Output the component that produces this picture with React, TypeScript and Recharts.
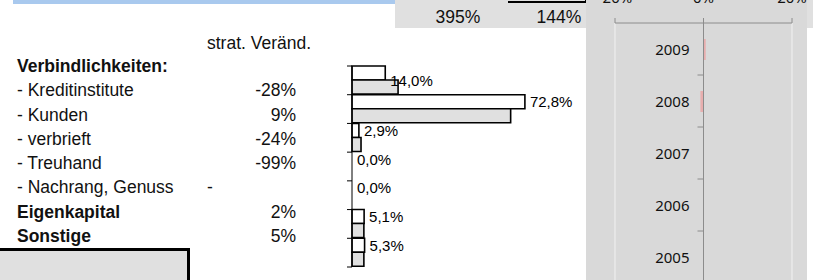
import { Bar, BarChart, CartesianGrid, Cell, LabelList, ReferenceLine, XAxis, YAxis } from "recharts"

const posten = ["- Kreditinstitute", "- Kunden", "- verbrieft", "- Treuhand", "- Nachrang, Genuss", "Eigenkapital", "Sonstige"]
const postenFett = [false, false, false, false, false, true, true]
const stratVeraend = ["-28%", "9%", "-24%", "-99%", null, "2%", "5%"]
const anteilNeu = [14.0, 72.8, 2.9, 0.0, 0.0, 5.1, 5.3]
const anteilAlt = [19.4, 66.8, 3.8, 0.0, 0.0, 5.0, 5.0]
const kopfWerte = ["395%", "144%"]

const jahre = ["2009", "2008", "2007", "2006", "2005"]
const jahresWerte = [0.5, -0.7, 0, 0, 0]
const jahresTicks = [-20, 0, 20]

const strukturData = posten.map((name, i) => ({ name, neu: anteilNeu[i], alt: anteilAlt[i] }))
const jahresData = jahre.map((jahr, i) => ({ jahr, wert: jahresWerte[i] }))

const ARIAL = "'Liberation Sans', Arial, sans-serif"
const CALIBRI = "'Noto Sans', 'Open Sans', sans-serif"

const RW = 221
const RH = 320
const RYW = 1
const RM = { top: 13, right: 15, bottom: 17, left: 28 }
const ZERO_OFF = (RW - RM.left - RYW - RM.right) / 2

const fmtProzent = (v: number) => v.toFixed(1).replace(".", ",") + "%"

// ticks between the categories, like excel draws them
function StrukturTick(props: any) {
  const { x, y, payload, index } = props
  const off = payload?.offset ?? 14.35
  return (
    <g>
      <line x1={x - 5} x2={x} y1={y - off} y2={y - off} stroke="#000" strokeWidth={1} />
      {index === posten.length - 1 && <line x1={x - 5} x2={x} y1={y + off} y2={y + off} stroke="#000" strokeWidth={1} />}
    </g>
  )
}

function JahrTick(props: any) {
  const { x, y, payload, index } = props
  const off = payload?.offset ?? 26
  const zx = x + ZERO_OFF
  return (
    <g>
      {index > 0 && <line x1={zx - 6} x2={zx} y1={y - off} y2={y - off} stroke="#8C8C8C" strokeWidth={1} />}
      <text x={zx - 14} y={y} textAnchor="end" dominantBaseline="central" fontSize={15} fontFamily={CALIBRI} fill="#111">
        {payload.value}
      </text>
    </g>
  )
}

function NeuLabel(props: any) {
  const { x, y, width, height, value, index } = props
  const dy = index === 0 ? 7 : 0
  return (
    <text x={x + width + 5} y={y + height / 2 + dy} dominantBaseline="central" fontSize={15} fontFamily={ARIAL} fill="#000">
      {fmtProzent(value)}
    </text>
  )
}

export default function App() {
  return (
    <div style={{ position: "absolute", left: 0, top: 0, width: 825, height: 280, overflow: "hidden", background: "#fff", fontFamily: ARIAL }}>
      <div style={{ position: "absolute", left: 13, top: 0, width: 382, height: 4, background: "#A9C9EE" }} />
      <div style={{ position: "absolute", left: 395, top: 0, width: 418, height: 28, background: "#E0E0E0" }} />
      <div style={{ position: "absolute", left: 508, top: -30, width: 79, height: 33, borderBottom: "2px solid #000", borderRight: "2px solid #000", boxSizing: "border-box" }} />
      {kopfWerte.map((w, i) => (
        <div key={w} style={{ position: "absolute", left: 420 + i * 101, top: 5, width: 76, textAlign: "center", fontSize: 17.5, lineHeight: "24px", color: "#111" }}>
          {w}
        </div>
      ))}

      <div style={{ position: "absolute", left: 207, top: 31, fontSize: 17.5, lineHeight: "24px", color: "#111" }}>strat. Veränd.</div>
      <div style={{ position: "absolute", left: 17, top: 54, width: 280, fontSize: 17.5, lineHeight: "24.3px", color: "#111" }}>
        <div style={{ fontWeight: "bold" }}>Verbindlichkeiten:</div>
        {posten.map((p, i) => (
          <div key={p} style={{ position: "relative", height: 24.3 }}>
            <span style={{ fontWeight: postenFett[i] ? "bold" : "normal" }}>{p}</span>
            {stratVeraend[i] == null ? (
              <span style={{ position: "absolute", left: 190 }}>-</span>
            ) : (
              <span style={{ position: "absolute", right: 1 }}>{stratVeraend[i]}</span>
            )}
          </div>
        ))}
      </div>

      <div style={{ position: "absolute", left: -3, top: 248, width: 193, height: 40, border: "3px solid #000", background: "#E0E0E0", boxSizing: "border-box" }} />

      <div style={{ position: "absolute", left: 300, top: 50 }}>
        <BarChart width={290} height={230} data={strukturData} layout="vertical" margin={{ top: 16, right: 48, bottom: 13, left: 0 }} barGap={0}>
          <XAxis type="number" domain={[0, 80]} hide />
          <YAxis type="category" dataKey="name" width={52} tickSize={0} tickMargin={0} axisLine={{ stroke: "#000" }} tickLine={false} tick={<StrukturTick />} />
          <Bar dataKey="neu" fill="#fff" stroke="#000" strokeWidth={1.6} barSize={14} minPointSize={0.01} isAnimationActive={false}>
            {strukturData.map((d) => (
              <Cell key={d.name} stroke={d.neu === 0 ? "none" : "#000"} />
            ))}
            <LabelList dataKey="neu" content={<NeuLabel />} />
          </Bar>
          <Bar dataKey="alt" fill="#E0E0E0" stroke="#000" strokeWidth={1.6} barSize={14} isAnimationActive={false} />
        </BarChart>
      </div>

      <div style={{ position: "absolute", left: 586, top: 0, width: RW, height: 280, background: "#D9D9D9" }} />
      <div style={{ position: "absolute", left: 586, top: -20 }}>
        <BarChart width={RW} height={RH} data={jahresData} layout="vertical" margin={RM}>
          <CartesianGrid horizontal={false} vertical stroke="#F2F2F2" />
          <XAxis
            type="number"
            orientation="top"
            domain={[-20, 20]}
            ticks={jahresTicks}
            tickFormatter={(v: number) => v + "%"}
            axisLine={{ stroke: "#8C8C8C" }}
            tickLine={{ stroke: "#8C8C8C" }}
            tickSize={5}
            tickMargin={15}
            tick={{ fontSize: 15, fontFamily: CALIBRI, fill: "#111" }}
          />
          <YAxis type="category" dataKey="jahr" width={RYW} tickSize={0} tickMargin={0} axisLine={false} tickLine={false} tick={<JahrTick />} />
          <ReferenceLine x={0} stroke="#8C8C8C" />
          <Bar dataKey="wert" fill="#E8AEAE" barSize={21} isAnimationActive={false} />
        </BarChart>
      </div>
    </div>
  )
}
